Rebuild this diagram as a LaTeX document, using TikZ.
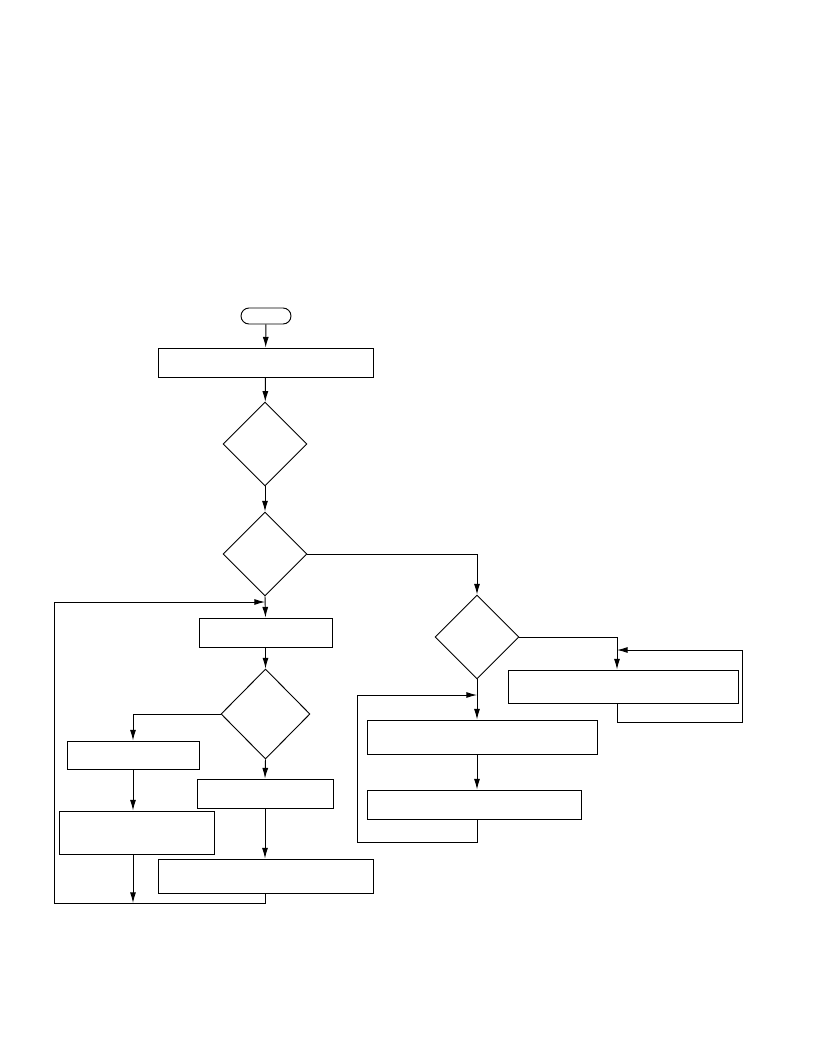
\documentclass[tikz,border=0pt]{standalone}
\usetikzlibrary{shapes.geometric,arrows.meta}
\begin{document}
\begin{tikzpicture}[x=0.75pt,y=-0.75pt]
\tikzstyle{flow-line}=[line width=0.7pt]
\tikzstyle{flow-arrow}=[flow-line, -{Latex[length=8pt,width=4.5pt]}]
\tikzstyle{flow-box}=[draw, flow-line, rectangle, inner sep=0pt]
\tikzstyle{flow-test}=[draw, flow-line, diamond, inner sep=0pt,
	minimum width=63pt, minimum height=63pt]
\tikzstyle{flow-start}=[draw, flow-line, rectangle, rounded corners=6pt,
	minimum width=37.5pt, minimum height=12pt, inner sep=0pt]

\useasboundingbox (0,0) rectangle (816,1056);

% main column
\node[flow-start] (start) at (266,316) {};
\node[flow-box, minimum width=161.25pt, minimum height=21.75pt] (init) at (265.5,362.5) {};
\node[flow-test] (testA) at (265,444) {};
\node[flow-test] (testB) at (265,554) {};

% left branch
\node[flow-box, minimum width=99.75pt, minimum height=21.75pt] (fetch) at (265.5,632.5) {};
\node[flow-test, minimum width=66.75pt, minimum height=67.5pt] (testC) at (265.5,714) {};
\node[flow-box, minimum width=99pt, minimum height=21pt] (leftA) at (133,755) {};
\node[flow-box, minimum width=116.25pt, minimum height=32.25pt] (leftB) at (136.5,832.5) {};
\node[flow-box, minimum width=102pt, minimum height=21.75pt] (rightA) at (265,793.5) {};
\node[flow-box, minimum width=161.25pt, minimum height=25.5pt] (rightB) at (265.5,876) {};

% right branch
\node[flow-test] (testD) at (477,637) {};
\node[flow-box, minimum width=172.5pt, minimum height=24.75pt] (waitbox) at (623,686.5) {};
\node[flow-box, minimum width=172.5pt, minimum height=25.5pt] (stepA) at (482,737) {};
\node[flow-box, minimum width=160.5pt, minimum height=21.75pt] (stepB) at (474,804.5) {};

\coordinate (leftin) at (265,602);
\coordinate (leftlow) at (265,903);
\coordinate (leftside) at (54,903);
\coordinate (waitin) at (617,650);
\coordinate (waitlow) at (742,722);
\coordinate (waittop) at (742,650);
\coordinate (stepin) at (477,695);
\coordinate (steplow) at (477,842);
\coordinate (stepside) at (357,842);

\draw[flow-arrow] (start) -- (init);
\draw[flow-arrow] (init) -- (testA);
\draw[flow-arrow] (testA) -- (testB);
\draw[flow-arrow] (testB.east) -| (testD.north);
\draw[flow-arrow] (testB.south) -- (fetch.north);
\draw[flow-arrow] (fetch) -- (testC);
\draw[flow-arrow] (testC.west) -| (leftA.north);
\draw[flow-arrow] (leftA.south) -- (leftA.south |- leftB.north);
\draw[flow-arrow] (leftA.south |- leftB.south) -- (leftA.south |- leftlow);
\draw[flow-arrow] (testC.south) -- (rightA.north);
\draw[flow-arrow] (rightA.south) -- (rightA.south |- rightB.north);
\draw[flow-arrow] (rightB.south -| leftlow) -- (leftlow) -- (leftside) |- (leftin);

\draw[flow-arrow] (testD.east) -| (waitin |- waitbox.north);
\draw[flow-arrow] (waitin |- waitbox.south) |- (waitlow) -- (waittop) -- (waitin);
\draw[flow-arrow] (testD.south) -- (testD.south |- stepA.north);
\draw[flow-arrow] (testD.south |- stepA.south) -- (testD.south |- stepB.north);
\draw[flow-arrow] (testD.south |- stepB.south) -- (steplow) -- (stepside) |- (stepin);
\end{tikzpicture}
\end{document}
